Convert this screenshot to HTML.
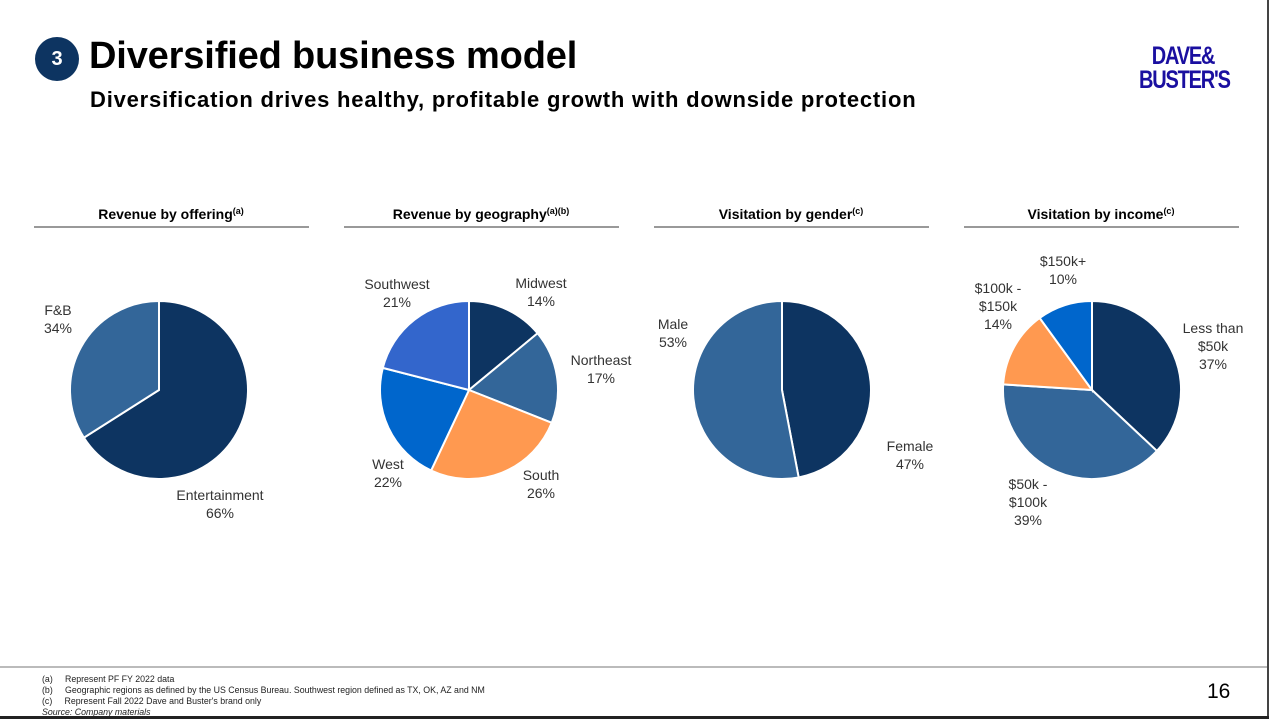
<!DOCTYPE html>
<html><head><meta charset="utf-8"><style>
body{margin:0;width:1279px;height:719px;background:#fff;position:relative;overflow:hidden;font-family:"Liberation Sans",sans-serif}
.abs{position:absolute}
</style></head><body>
<div class="abs" style="left:35px;top:37px;width:44px;height:44px;border-radius:50%;background:#0d3461;color:#fff;font-size:20px;font-weight:bold;text-align:center;line-height:44px">3</div>
<div class="abs" style="left:89px;top:35px;font-size:38px;font-weight:bold;color:#000;letter-spacing:-0.15px">Diversified business model</div>
<div class="abs" style="left:90px;top:87px;font-size:22px;font-weight:bold;color:#000;letter-spacing:0.8px">Diversification drives healthy, profitable growth with downside protection</div>
<div class="abs" style="left:1128px;top:44px;width:110px;color:#1a0fa0;font-weight:bold;font-size:25px;line-height:24px;text-align:center;letter-spacing:-1.5px;transform:scaleX(0.8)">DAVE&amp;<br>BUSTER'S</div>
<div class="abs" style="left:1267px;top:0;width:2px;height:719px;background:#444"></div>
<svg class="abs" style="left:0;top:0" width="1279" height="719" id="chart"></svg>
<div class="abs" style="left:0;top:666px;width:1267px;height:2px;background:#bbb"></div>
<div class="abs" style="left:42px;top:674px;font-size:8.8px;line-height:11px;color:#222">
<div>(a)&nbsp;&nbsp;&nbsp;&nbsp;&nbsp;Represent PF FY 2022 data</div>
<div>(b)&nbsp;&nbsp;&nbsp;&nbsp;&nbsp;Geographic regions as defined by the US Census Bureau. Southwest region defined as TX, OK, AZ and NM</div>
<div>(c)&nbsp;&nbsp;&nbsp;&nbsp;&nbsp;Represent Fall 2022 Dave and Buster's brand only</div>
<div style="font-style:italic">Source: Company materials</div></div>
<div class="abs" style="left:1207px;top:680px;font-size:21px;color:#000">16</div>
<div class="abs" style="left:0;top:716px;width:1269px;height:3px;background:#222"></div>
<script>
const titles=["Revenue by offering","Revenue by geography","Visitation by gender","Visitation by income"];
const sups=["(a)","(a)(b)","(c)","(c)"];
const offeringLabels=[["Entertainment"],["F&B"]];
const offeringValues=[66,34];
const geoLabels=[["Midwest"],["Northeast"],["South"],["West"],["Southwest"]];
const geoValues=[14,17,26,22,21];
const genderLabels=[["Female"],["Male"]];
const genderValues=[47,53];
const incomeLabels=[["Less than","$50k"],["$50k -","$100k"],["$100k -","$150k"],["$150k+"]];
const incomeValues=[37,39,14,10];
const charts=[
 {labels:offeringLabels,values:offeringValues,colors:["#0d3461","#336699"],cx:159,lpos:[[220,500,"middle"],[58,315,"middle"]]},
 {labels:geoLabels,values:geoValues,colors:["#0d3461","#336699","#ff9950","#0066cc","#3366cc"],cx:469,lpos:[[541,288,"middle"],[601,365,"middle"],[541,480,"middle"],[388,469,"middle"],[397,289,"middle"]]},
 {labels:genderLabels,values:genderValues,colors:["#0d3461","#336699"],cx:782,lpos:[[910,451,"middle"],[673,329,"middle"]]},
 {labels:incomeLabels,values:incomeValues,colors:["#0d3461","#336699","#ff9950","#0066cc"],cx:1092,lpos:[[1213,333,"middle"],[1028,489,"middle"],[998,293,"middle"],[1063,266,"middle"]]}
];
const svg=document.getElementById('chart');const NS="http://www.w3.org/2000/svg";
const cy=390,r=89;
charts.forEach((c,ci)=>{
 const x0=34+ci*310;
 const t=document.createElementNS(NS,'text');
 
 
 t.setAttribute('x',x0+137);t.setAttribute('y',219);t.setAttribute('text-anchor','middle');
 t.setAttribute('font-size','14');t.setAttribute('font-weight','bold');t.setAttribute('fill','#000');
 t.textContent=titles[ci];
 const ts=document.createElementNS(NS,'tspan');ts.setAttribute('font-size','9');ts.setAttribute('dy','-5');ts.textContent=sups[ci];t.appendChild(ts);
 svg.appendChild(t);
 const ln=document.createElementNS(NS,'line');
 
 
 ln.setAttribute('x1',x0);ln.setAttribute('x2',x0+275);ln.setAttribute('y1',227);ln.setAttribute('y2',227);ln.setAttribute('stroke','#333');
 svg.appendChild(ln);
 const tot=c.values.reduce((a,b)=>a+b,0);let acc=0;
 c.values.forEach((v,i)=>{
  const a1=acc/tot*2*Math.PI;acc+=v;const a2=acc/tot*2*Math.PI;
  const p=(a)=>[c.cx+r*Math.sin(a),cy-r*Math.cos(a)];
  const [x1,y1]=p(a1),[x2,y2]=p(a2);
  const path=document.createElementNS(NS,'path');
  
  
  path.setAttribute('d',`M${c.cx},${cy}L${x1},${y1}A${r},${r} 0 ${a2-a1>Math.PI?1:0} 1 ${x2},${y2}Z`);
  path.setAttribute('fill',c.colors[i]);path.setAttribute('stroke','#fff');path.setAttribute('stroke-width','2');
  svg.appendChild(path);
  const [lx,ly,anc]=c.lpos[i];
  const lab=document.createElementNS(NS,'text');
  
  
  lab.setAttribute('text-anchor',anc);lab.setAttribute('font-size','14');lab.setAttribute('fill','#333');
  const lines=c.labels[i].concat([v+'%']);
  lines.forEach((s,k)=>{const sp=document.createElementNS(NS,'tspan');sp.setAttribute('x',lx);sp.setAttribute('y',ly+k*18);sp.textContent=s;lab.appendChild(sp);});
  svg.appendChild(lab);
 });
});
</script>
</body></html>
